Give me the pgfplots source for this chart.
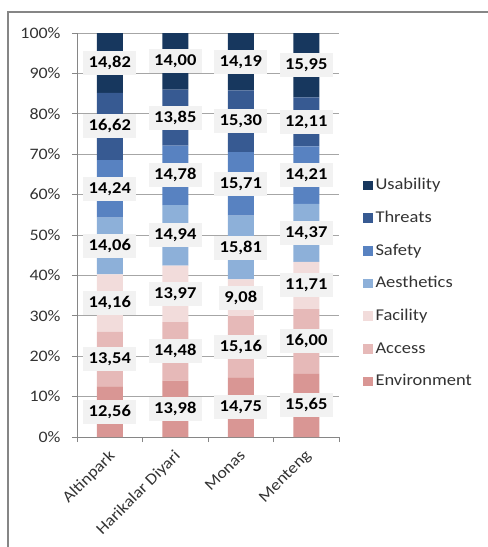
\documentclass[border=0pt]{standalone}
\usepackage{fontspec}
\setmainfont{Carlito}[FakeStretch=1.12]
\usepackage{pgfplots}
\usepackage{pgfplotstable}
\pgfplotsset{compat=1.18}

\definecolor{cUsa}{HTML}{17375E}
\definecolor{cThr}{HTML}{375A92}
\definecolor{cSaf}{HTML}{5882C1}
\definecolor{cAes}{HTML}{8DB0D9}
\definecolor{cFac}{HTML}{F2DCDB}
\definecolor{cAcc}{HTML}{E6B9B8}
\definecolor{cEnv}{HTML}{D99694}
\definecolor{framegray}{HTML}{868686}
\definecolor{gridgray}{HTML}{A6A6A6}
\definecolor{boxgray}{HTML}{F2F2F2}
\definecolor{txt}{HTML}{333333}

% share of each criterion per park (%), x = park index
\pgfplotstableread{
x   Env    Acc    Fac    Aes    Saf    Thr    Usa
0   12.56  13.54  14.16  14.06  14.24  16.62  14.82
1   13.98  14.48  13.97  14.94  14.78  13.85  14.00
2   14.75  15.16   9.08  15.81  15.71  15.30  14.19
3   15.65  16.00  11.71  14.37  14.21  12.11  15.95
}\scores

% middle of each stacked segment, where its value label sits
\pgfplotstablecreatecol[expr={\thisrow{Env}/2}]{mEnv}\scores
\pgfplotstablecreatecol[expr={\thisrow{Env}+\thisrow{Acc}/2}]{mAcc}\scores
\pgfplotstablecreatecol[expr={\thisrow{Env}+\thisrow{Acc}+\thisrow{Fac}/2}]{mFac}\scores
\pgfplotstablecreatecol[expr={\thisrow{Env}+\thisrow{Acc}+\thisrow{Fac}+\thisrow{Aes}/2}]{mAes}\scores
\pgfplotstablecreatecol[expr={\thisrow{Env}+\thisrow{Acc}+\thisrow{Fac}+\thisrow{Aes}+\thisrow{Saf}/2}]{mSaf}\scores
\pgfplotstablecreatecol[expr={\thisrow{Env}+\thisrow{Acc}+\thisrow{Fac}+\thisrow{Aes}+\thisrow{Saf}+\thisrow{Thr}/2}]{mThr}\scores
\pgfplotstablecreatecol[expr={\thisrow{Env}+\thisrow{Acc}+\thisrow{Fac}+\thisrow{Aes}+\thisrow{Saf}+\thisrow{Thr}+\thisrow{Usa}/2}]{mUsa}\scores

\pgfplotsset{
  sq/.style={draw=none, fill=#1,
    legend image code/.code={\fill[fill=#1] (0bp,-4.8bp) rectangle (9.6bp,4.8bp);}},
  frame geom/.style={
    at={(77bp,-437bp)}, anchor=south west,
    scale only axis, width=262bp, height=404bp,
    xmin=-0.5, xmax=3.5, ymin=0, ymax=100},
  vlabel/.style={draw=none, mark=none, nodes near coords, point meta=explicit},
}

\begin{document}
\begin{tikzpicture}
\path[use as bounding box] (0bp,0bp) rectangle (488bp,-547bp);
\draw[framegray, line width=1.3bp] (8bp,-547bp) -- (8bp,-12bp) -- (488bp,-12bp);
\begin{axis}[
  frame geom,
  ybar stacked, bar width=26bp,
  axis lines*=left,
  axis line style={framegray, line width=0.8bp},
  tick align=outside,
  xtick={0,1,2,3},
  xticklabels={Altinpark,Harikalar Diyari,Monas,Menteng},
  minor xtick={-0.5,0.5,1.5,2.5,3.5},
  major x tick style={draw=none},
  minor tick length=5bp, major tick length=5bp,
  every tick/.style={framegray, line width=0.8bp},
  minor x tick style={framegray, line width=0.8bp},
  ytick={0,10,...,100},
  yticklabel={\pgfmathprintnumber{\tick}\%},
  ymajorgrids, grid style={gridgray, line width=0.8bp},
  /pgf/number format/assume math mode=true,
  ticklabel style={font=\fontsize{16bp}{19bp}\selectfont, text=txt},
  yticklabel style={xshift=-8bp},
  xticklabel style={xshift=-2bp, yshift=-4bp, rotate=45, anchor=north east, inner sep=2bp},
  reverse legend,
  legend cell align=left,
  legend style={at={(1.081,0.646)}, anchor=north west, draw=none, fill=none,
    font=\fontsize{16.5bp}{19bp}\selectfont, text=txt,
    row sep=18.2bp,
    nodes={inner ysep=0bp, inner xsep=2.5bp, text height=11.5bp, text depth=3bp}},
]
\addplot[sq=cEnv] table[x=x, y=Env] {\scores};
\addplot[sq=cAcc] table[x=x, y=Acc] {\scores};
\addplot[sq=cFac] table[x=x, y=Fac] {\scores};
\addplot[sq=cAes] table[x=x, y=Aes] {\scores};
\addplot[sq=cSaf] table[x=x, y=Saf] {\scores};
\addplot[sq=cThr] table[x=x, y=Thr] {\scores};
\addplot[sq=cUsa] table[x=x, y=Usa] {\scores};
\legend{Environment,Access,Facility,Aesthetics,Safety,Threats,Usability}
\end{axis}
% value labels, on the same frame
\begin{axis}[
  frame geom, hide axis, clip=false,
  /pgf/number format/.cd, assume math mode=true, fixed, fixed zerofill, precision=2, use comma,
  /pgfplots/.cd,
  every node near coord/.append style={anchor=center,
    fill=boxgray, text=black, font=\bfseries\fontsize{16.5bp}{19bp}\selectfont,
    inner xsep=5.5bp, inner ysep=0bp, text height=11bp, text depth=2bp, minimum height=24bp},
]
\addplot[vlabel] table[x=x, y=mEnv, meta=Env] {\scores};
\addplot[vlabel] table[x=x, y=mAcc, meta=Acc] {\scores};
\addplot[vlabel] table[x=x, y=mFac, meta=Fac] {\scores};
\addplot[vlabel] table[x=x, y=mAes, meta=Aes] {\scores};
\addplot[vlabel] table[x=x, y=mSaf, meta=Saf] {\scores};
\addplot[vlabel] table[x=x, y=mThr, meta=Thr] {\scores};
\addplot[vlabel] table[x=x, y=mUsa, meta=Usa] {\scores};
\end{axis}
\end{tikzpicture}
\end{document}
